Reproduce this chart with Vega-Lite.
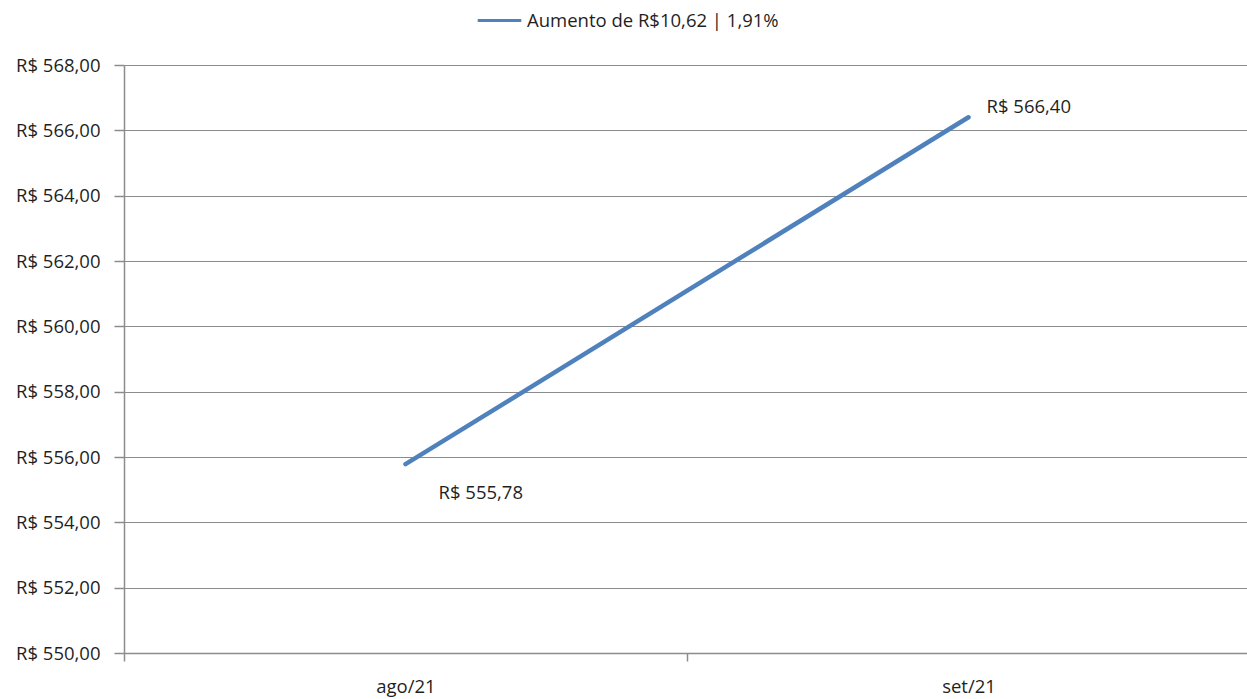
{
  "$schema": "https://vega.github.io/schema/vega-lite/v6.json",
  "autosize": {"type": "none"},
  "padding": {"left": 124, "top": 65, "right": 0, "bottom": 46},
  "width": 1126,
  "height": 588,
  "background": "white",
  "data": {"values": [
    {"mes": "ago/21", "valor": 555.78, "serie": "Aumento de R$10,62 | 1,91%", "rotulo": "R$ 555,78"},
    {"mes": "set/21", "valor": 566.40, "serie": "Aumento de R$10,62 | 1,91%", "rotulo": "R$ 566,40"}
  ]},
  "config": {
    "view": {"stroke": null},
    "font": "Open Sans"
  },
  "encoding": {
    "x": {"field": "mes", "type": "nominal", "sort": null,
      "scale": {"paddingInner": 0, "paddingOuter": 0},
      "axis": {"title": null, "labelAngle": 0, "tickBand": "extent", "domainColor": "#8c8c8c", "domainWidth": 1.5,
        "tickColor": "#8c8c8c", "tickSize": 8, "tickWidth": 1.5, "labelPadding": 16, "labelFont": "Open Sans", "labelFontSize": 18.5, "labelColor": "#1f1f1f", "grid": false}},
    "y": {"field": "valor", "type": "quantitative",
      "scale": {"domain": [550, 568], "nice": false, "zero": false},
      "axis": {"title": null, "values": [550, 552, 554, 556, 558, 560, 562, 564, 566, 568],
        "labelExpr": "'R$ ' + replace(format(datum.value, '.2f'), '.', ',')",
        "labelFont": "Open Sans", "labelFontSize": 18.5, "labelColor": "#1f1f1f", "labelPadding": 14,
        "domainColor": "#8c8c8c", "domainWidth": 1.5, "tickColor": "#8c8c8c", "tickSize": 10, "tickWidth": 1.5,
        "gridColor": "#8c8c8c", "gridWidth": 1.2}}
  },
  "layer": [
    {
      "mark": {"type": "line", "strokeWidth": 4.5, "strokeCap": "round"},
      "encoding": {
        "color": {"field": "serie", "type": "nominal", "scale": {"range": ["#4F81BD"]},
          "legend": {"title": null, "orient": "none", "legendX": 352, "legendY": -68, "symbolType": "stroke", "symbolSize": 1900, "symbolStrokeWidth": 3,
            "labelFont": "Open Sans", "labelFontSize": 18.5, "labelColor": "#1f1f1f", "labelOffset": 4, "labelLimit": 0}}
      }
    },
    {
      "transform": [{"filter": "datum.mes == 'ago/21'"}],
      "mark": {"type": "text", "align": "left", "baseline": "middle", "dx": 33, "dy": 29, "font": "Open Sans", "fontSize": 18.5, "color": "#1f1f1f"},
      "encoding": {"text": {"field": "rotulo"}}
    },
    {
      "transform": [{"filter": "datum.mes == 'set/21'"}],
      "mark": {"type": "text", "align": "left", "baseline": "middle", "dx": 18, "dy": -10, "font": "Open Sans", "fontSize": 18.5, "color": "#1f1f1f"},
      "encoding": {"text": {"field": "rotulo"}}
    }
  ]
}
